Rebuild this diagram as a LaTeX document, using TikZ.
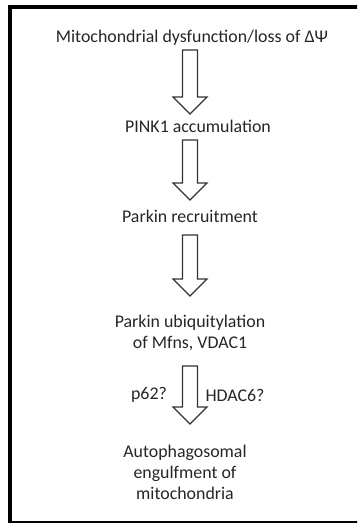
\documentclass[tikz,border=0pt]{standalone}
\usepackage{fontspec}
\setmainfont{Carlito}
\usetikzlibrary{calc}
\tikzset{txt/.style={inner sep=0.75pt, align=center, text=black!85,
    font=\fontsize{13.4}{15.75}\selectfont},
  blockarr/.style={draw=black!80, line width=0.9pt, fill=white, line join=miter,
    to path={($(\tikztostart)+(-7.5,0)$) -- ($(\tikztotarget)+(-7.5,-17)$)
    -- ($(\tikztotarget)+(-17,-17)$) -- (\tikztotarget) -- ($(\tikztotarget)+(17,-17)$)
    -- ($(\tikztotarget)+(7.5,-17)$) -- ($(\tikztostart)+(7.5,0)$) -- cycle}}}

\begin{document}
\begin{tikzpicture}[x=0.75pt,y=0.75pt,yscale=-1,xscale=1]
\useasboundingbox (0,0) rectangle (357,523);
\clip (0,0) rectangle (357,523);

%Shape: Frame
\draw [line width=3pt] (9.5,7) rectangle (366,522.5);

% Text Node
\node [txt] (dys) at (192,38) {Mitochondrial dysfunction/loss of ΔΨ};
% Text Node
\node [txt] (pink) at (198,126) {PINK1 accumulation};
% Text Node
\node [txt] (recr) at (190,216) {Parkin recruitment};
% Text Node
\node [txt] (ubiq) at (190,333) {Parkin ubiquitylation\\of Mfns, VDAC1};
% Text Node
\node [txt] (p62) at (149,395) {p62?};
% Text Node
\node [txt] (hdac) at (235,395) {HDAC6?};
% Text Node
\node [txt] (auto) at (185,472) {Autophagosomal\\engulfment of\\mitochondria};

%Arrow ends
\coordinate (a1s) at (190,50);  \coordinate (a1e) at (190,114);
\coordinate (a2s) at (190,140); \coordinate (a2e) at (190,200);
\coordinate (a3s) at (190,235); \coordinate (a3e) at (190,296);
\coordinate (a4s) at (190,366); \coordinate (a4e) at (190,424);

%Block Arrows
\draw [blockarr] (a1s) to (a1e);
\draw [blockarr] (a2s) to (a2e);
\draw [blockarr] (a3s) to (a3e);
\draw [blockarr] (a4s) to (a4e);

\end{tikzpicture}
\end{document}
